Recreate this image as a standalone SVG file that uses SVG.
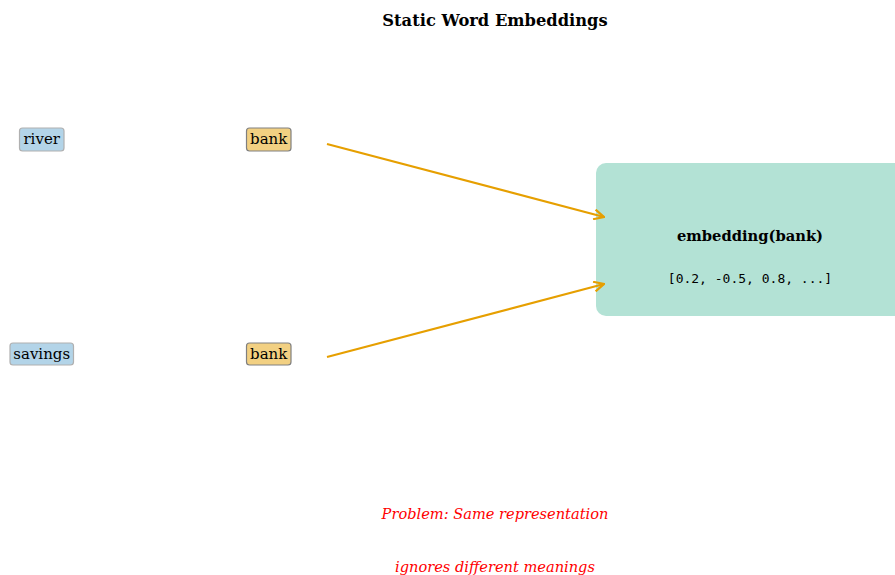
<svg xmlns="http://www.w3.org/2000/svg" width="895" height="575" viewBox="0 0 895 575">
  <style>
    .serif { font-family: "DejaVu Serif", "Liberation Serif", serif; }
    .title { font-size: 16.3px; font-weight: bold; }
    .word { font-size: 15px; }
    .ctx rect { fill: #b3d4e8; stroke: #b0b0b0; stroke-width: 1.2; }
    .tgt rect { fill: #f2d082; stroke: #808080; stroke-width: 1.2; }
    .emb-title { font-size: 14.7px; font-weight: bold; }
    .mono { font-family: "DejaVu Sans Mono", "Liberation Mono", monospace; font-size: 13px; }
    .note { font-size: 14.6px; font-style: italic; fill: #ff0000; }
    .conn { stroke: #e69f00; stroke-width: 2.2; fill: none; marker-end: url(#arrow); }
  </style>
  <defs>
    <marker id="arrow" viewBox="0 0 12 12" refX="11" refY="6" markerWidth="12" markerHeight="12" markerUnits="userSpaceOnUse" orient="auto">
      <path d="M1,1 L11,6 L1,11" fill="none" stroke="#e69f00" stroke-width="2.2"/>
    </marker>
  </defs>

  <rect width="895" height="575" fill="#ffffff"/>

  <text class="serif title" x="495" y="26" text-anchor="middle">Static Word Embeddings</text>

  <g id="node-river" class="ctx">
    <rect x="19.5" y="128" width="44.5" height="23" rx="3"/>
    <text class="serif word" x="41.7" y="144" text-anchor="middle">river</text>
  </g>
  <g id="node-bank-1" class="tgt">
    <rect x="246.5" y="128" width="44.5" height="23" rx="3"/>
    <text class="serif word" x="268.7" y="144" text-anchor="middle">bank</text>
  </g>
  <g id="node-savings" class="ctx">
    <rect x="10" y="343" width="63.5" height="22" rx="3"/>
    <text class="serif word" x="41.7" y="359" text-anchor="middle">savings</text>
  </g>
  <g id="node-bank-2" class="tgt">
    <rect x="246.5" y="343" width="44.5" height="22" rx="3"/>
    <text class="serif word" x="268.7" y="359" text-anchor="middle">bank</text>
  </g>

  <g id="node-embedding">
    <rect x="596" y="163" width="330" height="153" rx="10" fill="#b3e2d5"/>
    <text class="serif emb-title" x="750" y="241" text-anchor="middle">embedding(bank)</text>
    <text class="mono" x="750" y="283" text-anchor="middle">[0.2, -0.5, 0.8, ...]</text>
  </g>

  <g id="connectors">
    <line class="conn" x1="327" y1="144" x2="604" y2="217"/>
    <line class="conn" x1="327" y1="357" x2="604" y2="284"/>
  </g>

  <g id="caption">
    <text class="serif note" x="495" y="519" text-anchor="middle">Problem: Same representation</text>
    <text class="serif note" x="495" y="572" text-anchor="middle">ignores different meanings</text>
  </g>
</svg>
